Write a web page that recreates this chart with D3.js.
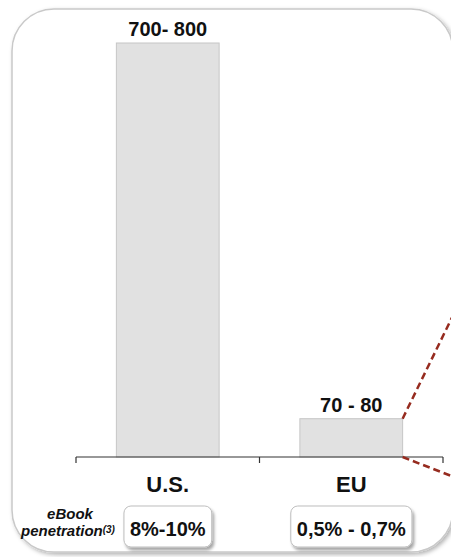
<!DOCTYPE html>
<html lang="en">
<head>
<meta charset="utf-8">
<title>eBook market</title>
<script src="https://d3js.org/d3.v7.min.js"></script>
<style>
  body { margin: 0; background: #fff; }
  text { font-family: "Liberation Sans", Arial, Helvetica, sans-serif; }
</style>
</head>
<body>
<script>
// data
var categories = ["U.S.", "EU"];
var values = [800, 74];
var valueLabels = ["700- 800", "70 - 80"];
var penetration = ["8%-10%", "0,5% - 0,7%"];

var width = 451,
    height = 557;

var svg = d3.select("body").append("svg")
    .attr("width", width)
    .attr("height", height);

var defs = svg.append("defs");
defs.append("filter").attr("id", "panelShadow")
    .attr("x", "-10%").attr("y", "-10%").attr("width", "120%").attr("height", "120%")
  .append("feDropShadow")
    .attr("dx", 2).attr("dy", 2).attr("stdDeviation", 2)
    .attr("flood-color", "#000").attr("flood-opacity", 0.3);
defs.append("filter").attr("id", "boxShadow")
    .attr("x", "-20%").attr("y", "-20%").attr("width", "150%").attr("height", "160%")
  .append("feDropShadow")
    .attr("dx", 2).attr("dy", 3).attr("stdDeviation", 1.8)
    .attr("flood-color", "#000").attr("flood-opacity", 0.35);

// rounded panel
svg.append("rect")
    .attr("x", 12).attr("y", 9)
    .attr("width", 441).attr("height", 543)
    .attr("rx", 42).attr("ry", 42)
    .attr("fill", "#fff")
    .attr("stroke", "#c9c9c9")
    .attr("stroke-width", 1.5)
    .attr("filter", "url(#panelShadow)");

var x = d3.scaleBand()
    .domain(categories)
    .range([76, 443])
    .paddingInner(0.44)
    .paddingOuter(0.22);

var y = d3.scaleLinear()
    .domain([0, 800])
    .range([457, 43]);

// bars
svg.selectAll("rect.bar")
    .data(values)
  .enter().append("rect")
    .attr("class", "bar")
    .attr("x", function(d, i) { return x(categories[i]); })
    .attr("y", function(d) { return y(d); })
    .attr("width", x.bandwidth())
    .attr("height", function(d) { return y(0) - y(d); })
    .attr("fill", "#e1e1e1")
    .attr("stroke", "#c6c6c6")
    .attr("stroke-width", 1);

// value labels
svg.selectAll("text.val")
    .data(values)
  .enter().append("text")
    .attr("class", "val")
    .attr("x", function(d, i) { return x(categories[i]) + x.bandwidth() / 2; })
    .attr("y", function(d) { return y(d) - 7; })
    .attr("text-anchor", "middle")
    .attr("font-size", 20)
    .attr("font-weight", "bold")
    .attr("fill", "#111")
    .text(function(d, i) { return valueLabels[i]; });

// axis line with ticks at the band edges
var r = x.range();
var gap = x.step() * x.paddingInner() / 2;
var tickXs = [r[0]].concat(categories.slice(1).map(function(c) { return x(c) - gap; }), [r[1]]);
var axis = svg.append("g").attr("stroke", "#333").attr("stroke-width", 1.2);
axis.append("line")
    .attr("x1", r[0]).attr("x2", r[1])
    .attr("y1", y(0)).attr("y2", y(0));
axis.selectAll("line.tick")
    .data(tickXs)
  .enter().append("line")
    .attr("class", "tick")
    .attr("x1", function(d) { return d; }).attr("x2", function(d) { return d; })
    .attr("y1", y(0)).attr("y2", y(0) + 6);

// category labels
svg.selectAll("text.cat")
    .data(categories)
  .enter().append("text")
    .attr("class", "cat")
    .attr("x", function(d) { return x(d) + x.bandwidth() / 2; })
    .attr("y", 492)
    .attr("text-anchor", "middle")
    .attr("font-size", 22)
    .attr("font-weight", "bold")
    .attr("fill", "#111")
    .text(function(d) { return d; });

// dashed lead lines from the EU bar towards the right
var euRight = x("EU") + x.bandwidth();
var lead = svg.append("g")
    .attr("stroke", "#962b1f")
    .attr("stroke-width", 2.5)
    .attr("stroke-dasharray", "7,4")
    .attr("fill", "none");
lead.append("line")
    .attr("x1", euRight).attr("y1", y(values[1]))
    .attr("x2", euRight + 60).attr("y2", y(values[1]) - 60 * 2.05);
lead.append("line")
    .attr("x1", euRight).attr("y1", y(0))
    .attr("x2", euRight + 60).attr("y2", y(0) + 60 * 0.39);

// eBook penetration label, two lines
var penLabel = svg.append("g")
    .attr("font-size", 15)
    .attr("font-weight", "bold")
    .attr("font-style", "italic")
    .attr("fill", "#111")
    .attr("text-anchor", "middle");
penLabel.append("text").attr("x", 70).attr("y", 519).text("eBook");
var line2 = penLabel.append("text").attr("x", 68).attr("y", 536);
line2.append("tspan").text("penetration");
line2.append("tspan").attr("font-size", 10).attr("dy", -3).text("(3)");

// penetration boxes
var boxes = svg.selectAll("g.box")
    .data(penetration)
  .enter().append("g")
    .attr("class", "box")
    .attr("transform", function(d, i) {
      return "translate(" + (x(categories[i]) + x.bandwidth() / 2) + ",0)";
    });

boxes.append("text")
    .attr("x", 0)
    .attr("y", 536)
    .attr("text-anchor", "middle")
    .attr("font-size", 20)
    .attr("font-weight", "bold")
    .attr("fill", "#111")
    .text(function(d) { return d; });

boxes.insert("rect", "text")
    .each(function() {
      var bb = this.parentNode.querySelector("text").getBBox();
      d3.select(this)
        .attr("x", bb.x - 6)
        .attr("width", bb.width + 12);
    })
    .attr("y", 506)
    .attr("height", 41)
    .attr("rx", 7).attr("ry", 7)
    .attr("fill", "#fff")
    .attr("stroke", "#bdbdbd")
    .attr("stroke-width", 1)
    .attr("filter", "url(#boxShadow)");
</script>
</body>
</html>
